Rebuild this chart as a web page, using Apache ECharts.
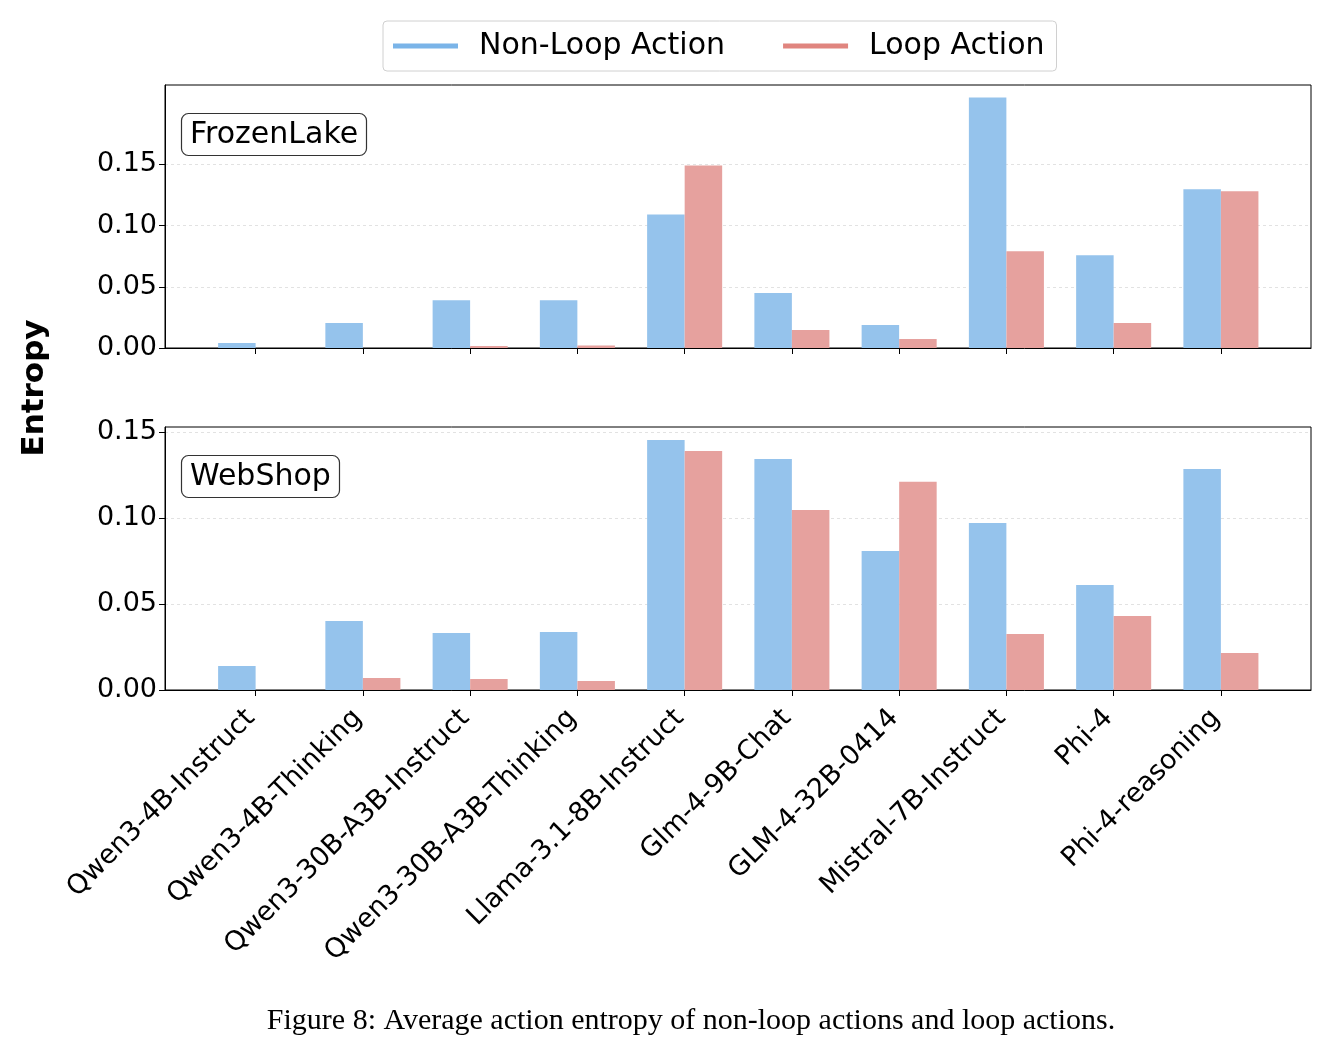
<!DOCTYPE html>
<html>
<head>
<meta charset="utf-8">
<script src="https://cdn.jsdelivr.net/npm/echarts@6/dist/echarts.min.js"></script>
<style>
  html,body{margin:0;padding:0;background:#fff;}
  #main{width:1336px;height:1052px;}
</style>
</head>
<body>
<div id="main"></div>
<script>
var models = ['Qwen3-4B-Instruct','Qwen3-4B-Thinking','Qwen3-30B-A3B-Instruct','Qwen3-30B-A3B-Thinking',
  'Llama-3.1-8B-Instruct','Glm-4-9B-Chat','GLM-4-32B-0414','Mistral-7B-Instruct','Phi-4','Phi-4-reasoning'];
// FrozenLake
var frozenNonLoop = [0.004,0.0204,0.039,0.039,0.109,0.045,0.0188,0.2046,0.0758,0.1296];
var frozenLoop = [0,0,0.0016,0.002,0.149,0.0147,0.0073,0.079,0.0204,0.128];
// WebShop
var shopNonLoop = [0.014,0.0401,0.0331,0.0337,0.1453,0.1343,0.0808,0.0971,0.061,0.1285];
var shopLoop = [0,0.007,0.0064,0.0052,0.139,0.1047,0.121,0.0326,0.043,0.0215];
var yTicks = [0,0.05,0.10,0.15];
var tickPos = [0,1,2,3,4,5,6,7,8,9];

var blue = '#95c3ec', red = '#e6a19e';
var font = 'DejaVu Sans';

function pairs(arr, shift){
  var out = [];
  for (var i = 0; i < arr.length; i++) out.push([i + shift, arr[i]]);
  return out;
}

function xAxis(idx, showLabels){
  return {
    type:'value', gridIndex:idx, min:-0.845, max:9.84,
    axisLine:{show:true, onZero:false, lineStyle:{color:'#000', width:1}},
    axisTick:{show:true, customValues:tickPos, length:6, lineStyle:{color:'#000'}},
    axisLabel:{show:showLabels, customValues:tickPos, rotate:45, margin:19,
      fontFamily:font, fontSize:27, color:'#000', padding:[0,7,0,0],
      formatter:function(v){ return models[Math.round(v)]; }},
    splitLine:{show:false},
    z:5
  };
}
function yAxis(idx, max){
  return {
    type:'value', gridIndex:idx, min:0, max:max,
    axisLine:{show:true, onZero:false, lineStyle:{color:'#000', width:1}},
    axisTick:{show:true, customValues:yTicks, length:6, lineStyle:{color:'#000'}},
    axisLabel:{customValues:yTicks, margin:8, fontFamily:font, fontSize:27, color:'#000',
      formatter:function(v){ return v.toFixed(2); }},
    splitLine:{show:true, lineStyle:{color:'#e2e2e2', type:[3,3], width:1}}
  };
}
function bars(name, data, shift, color, idx){
  return {
    name:name, type:'bar', xAxisIndex:idx, yAxisIndex:idx,
    data:pairs(data, shift), barWidth:37.5, barGap:'-100%',
    itemStyle:{color:color}, animation:false
  };
}

var chart = echarts.init(document.getElementById('main'));
chart.setOption({
  backgroundColor:'#fff',
  animation:false,
  title:[
    {text:'FrozenLake', left:181, top:113, padding:[7,9,6,9], borderColor:'#333', borderWidth:1.2, borderRadius:7,
      textStyle:{fontFamily:font, fontSize:30, fontWeight:'normal', color:'#000'}},
    {text:'WebShop', left:181, top:455, padding:[7,9,6,9], borderColor:'#333', borderWidth:1.2, borderRadius:7,
      textStyle:{fontFamily:font, fontSize:30, fontWeight:'normal', color:'#000'}}
  ],
  legend:{
    left:383, top:21, padding:[10,12,10,10], itemGap:58,
    itemWidth:65, itemHeight:5, icon:'rect',
    borderColor:'#d0d0d0', borderWidth:1, borderRadius:4,
    textStyle:{fontFamily:font, fontSize:30, color:'#000', padding:[0,0,0,16]},
    data:[{name:'Non-Loop Action', itemStyle:{color:'#7ab4e8'}},
          {name:'Loop Action', itemStyle:{color:'#e0857f'}}]
  },
  grid:[
    {left:165, right:25, top:85, height:263, show:true, borderColor:'#000', borderWidth:1},
    {left:165, right:25, top:427, height:263, show:true, borderColor:'#000', borderWidth:1}
  ],
  xAxis:[xAxis(0,false), xAxis(1,true)],
  yAxis:[yAxis(0,0.2148), yAxis(1,0.1529)],
  series:[
    bars('Non-Loop Action', frozenNonLoop, -0.175, blue, 0),
    bars('Loop Action', frozenLoop, 0.175, red, 0),
    bars('Non-Loop Action', shopNonLoop, -0.175, blue, 1),
    bars('Loop Action', shopLoop, 0.175, red, 1)
  ],
  graphic:[
    {type:'text', x:35, y:388, rotation:Math.PI/2,
      style:{text:'Entropy', fontFamily:font, fontSize:31, fontWeight:'bold', fill:'#000',
        textAlign:'center', textVerticalAlign:'middle'}},
    {type:'text', x:691, y:1021,
      style:{text:'Figure 8: Average action entropy of non-loop actions and loop actions.',
        fontFamily:'Liberation Serif', fontSize:30, fill:'#000',
        textAlign:'center', textVerticalAlign:'middle'}}
  ]
});
</script>
</body>
</html>
